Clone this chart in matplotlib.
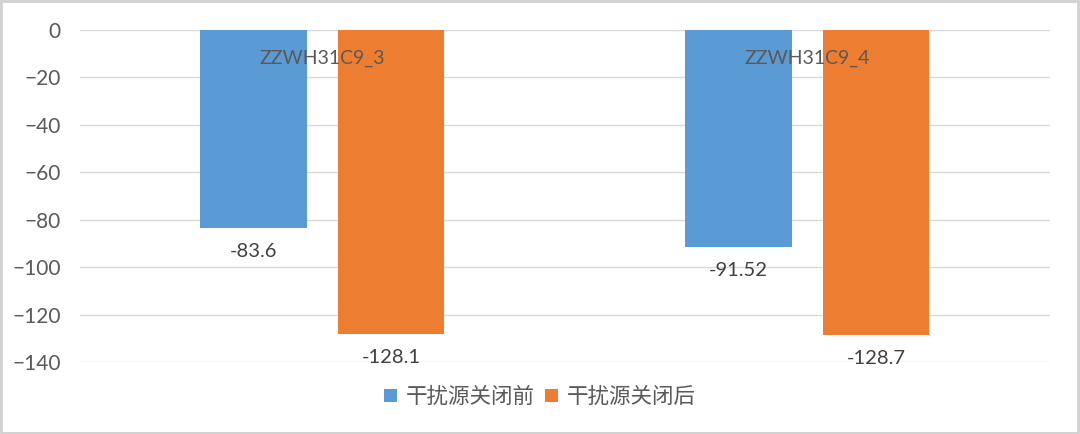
import matplotlib.pyplot as plt
import numpy as np

plt.rcParams['font.family'] = ['Lato', 'Noto Sans CJK SC', 'DejaVu Sans']

categories = ['ZZWH31C9_3', 'ZZWH31C9_4']
before = [-83.6, -91.52]
after = [-128.1, -128.7]
series_names = ['干扰源关闭前', '干扰源关闭后']
label_before = ['-83.6', '-91.52']
label_after = ['-128.1', '-128.7']

blue = '#5b9bd5'
orange = '#ed7d31'
text_col = '#595959'

fig = plt.figure(figsize=(10.8, 4.34), dpi=100)
ax = fig.add_axes([0.074, 0.166, 0.898, 0.765])

x = np.arange(len(categories))
w = 0.22
off = 0.1415
b1 = ax.bar(x - off, before, w, color=blue, label=series_names[0], zorder=2)
b2 = ax.bar(x + off, after, w, color=orange, label=series_names[1], zorder=2)

for rects, labs in ((b1, label_before), (b2, label_after)):
    for r, t in zip(rects, labs):
        ax.annotate(t, (r.get_x() + r.get_width() / 2, r.get_height()),
                    xytext=(0, -11), textcoords='offset points',
                    ha='center', va='top', fontsize=14.5, color='#404040')

for xi, c in zip(x, categories):
    ax.text(xi, -12, c, ha='center', va='center', fontsize=14, color=text_col, zorder=3)

ax.set_xlim(-0.5, 1.5)
ax.set_ylim(-140, 0)
ax.set_yticks(np.arange(-140, 1, 20))
ax.set_xticks([])
ax.yaxis.grid(True, color='#d9d9d9', linewidth=1)
ax.set_axisbelow(True)
for s in ax.spines.values():
    s.set_visible(False)
ax.tick_params(axis='y', length=0, pad=14, labelsize=15, labelcolor=text_col)

fig.legend(handles=[b1, b2], loc='center', bbox_to_anchor=(0.5, 0.085), ncol=2, frameon=False,
           fontsize=15.5, labelcolor=text_col, handlelength=0.6, handleheight=0.6,
           handletextpad=0.4, columnspacing=0.5)

fig.patches.append(plt.Rectangle((0.001, 0.002), 0.997, 0.995, transform=fig.transFigure,
                                 fill=False, edgecolor='#d0d0d0', linewidth=2))

fig.savefig('out.png', dpi=100)
